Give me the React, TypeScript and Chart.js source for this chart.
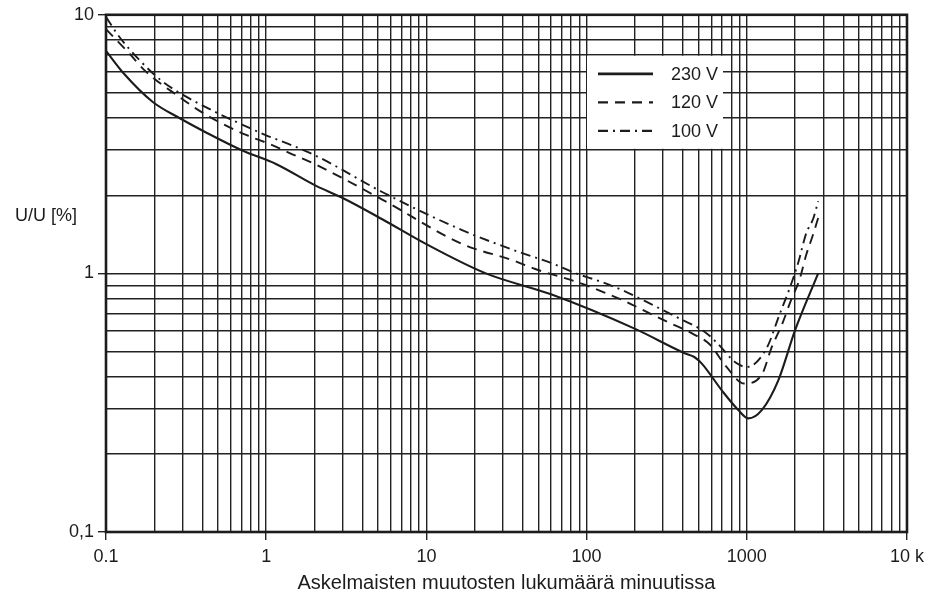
import { useEffect, useRef } from "react";
import { Chart, registerables } from "chart.js";

Chart.register(...registerables);

// Step-change rate (changes per minute) and permitted voltage change U/U [%]
const seriesLabels = ["230 V", "120 V", "100 V"];

const rate230 = [0.1, 0.13, 0.196, 0.289, 0.424, 0.716, 1.15, 2.05, 2.94, 5.3, 9.93, 23.5, 60, 201, 413, 470, 524, 698, 886, 1023, 1240, 1573, 2000, 2790];
const dev230 = [7.25, 5.9, 4.6, 3.98, 3.5, 2.98, 2.65, 2.18, 1.97, 1.62, 1.3, 1.0, 0.83, 0.61, 0.49, 0.475, 0.448, 0.353, 0.296, 0.275, 0.296, 0.386, 0.602, 1.0];

const rate120 = [0.1, 0.138, 0.179, 0.289, 0.384, 0.55, 0.75, 1.07, 1.4, 2.0, 5.3, 16.7, 35.2, 47.8, 89.8, 125, 174, 237, 327, 458, 590, 736, 966, 1250, 1422, 1667, 1897, 2126, 2350, 2600, 2800];
const dev120 = [8.8, 7.15, 6.0, 4.8, 4.25, 3.75, 3.43, 3.15, 2.92, 2.65, 1.93, 1.3, 1.12, 1.04, 0.92, 0.85, 0.78, 0.71, 0.645, 0.585, 0.53, 0.44, 0.375, 0.41, 0.513, 0.64, 0.794, 0.94, 1.18, 1.42, 1.65];

const rate100 = [0.1, 0.122, 0.163, 0.222, 0.31, 0.466, 0.683, 1.0, 1.46, 2.09, 5.33, 16.7, 37.8, 58.2, 86, 122, 175, 253, 378, 555, 649, 861, 1000, 1083, 1343, 1596, 1842, 2094, 2350, 2600, 2790];
const dev100 = [9.8, 8.17, 6.65, 5.56, 4.86, 4.25, 3.8, 3.42, 3.12, 2.83, 2.06, 1.47, 1.21, 1.105, 1.0, 0.93, 0.85, 0.76, 0.67, 0.59, 0.54, 0.45, 0.435, 0.44, 0.52, 0.69, 0.868, 1.1, 1.43, 1.63, 1.9];

// Axis ranges and decade labels
const xDecades = [0.1, 1, 10, 100, 1000, 10000];
const xDecadeLabels = ["0.1", "1", "10", "100", "1000", "10 k"];
const yDecades = [0.1, 1, 10];
const yDecadeLabels = ["0,1", "1", "10"];

const xTitle = "Askelmaisten muutosten lukumäärä minuutissa";
const yTitle = "U/U [%]";

const FONT = "'Liberation Sans', Arial, sans-serif";
const INK = "#1c1c1c";

function logGridValues(decades: number[]): number[] {
  const out: number[] = [];
  for (let i = 0; i < decades.length - 1; i++) {
    for (let m = 1; m <= 9; m++) out.push(+(decades[i] * m).toPrecision(6));
  }
  out.push(decades[decades.length - 1]);
  return out;
}

function decadeIndex(decades: number[], v: number): number {
  return decades.findIndex((d) => Math.abs(Math.log10(d) - Math.log10(v)) < 1e-6);
}

const toPoints = (xs: number[], ys: number[]) => xs.map((x, i) => ({ x, y: ys[i] }));

const framePlugin = {
  id: "frameAndTexts",
  afterDatasetsDraw(chart: any) {
    const { ctx, chartArea } = chart;
    const { left, right, top, bottom } = chartArea;
    ctx.save();

    // legend box inside the plot
    const bx = left + 481;
    const by = top + 41;
    const bw = 136;
    const bh = 93;
    ctx.fillStyle = "#ffffff";
    ctx.fillRect(bx, by, bw, bh);
    chart.data.datasets.forEach((ds: any, i: number) => {
      const ly = by + 18 + i * 28.5;
      ctx.strokeStyle = ds.borderColor;
      ctx.lineWidth = i === 0 ? 2.8 : 2.2;
      ctx.setLineDash(ds.borderDash || []);
      ctx.beginPath();
      ctx.moveTo(bx + 11, ly);
      ctx.lineTo(bx + 66, ly);
      ctx.stroke();
      ctx.setLineDash([]);
      ctx.fillStyle = INK;
      ctx.font = `18px ${FONT}`;
      ctx.textAlign = "right";
      ctx.textBaseline = "middle";
      ctx.fillText(ds.label, bx + 131, ly + 1);
    });

    // outer frame
    ctx.strokeStyle = INK;
    ctx.lineWidth = 2.6;
    ctx.strokeRect(left, top, right - left, bottom - top);

    // horizontal y-axis title
    ctx.fillStyle = INK;
    ctx.font = `18px ${FONT}`;
    ctx.textAlign = "left";
    ctx.textBaseline = "middle";
    ctx.fillText(yTitle, 15, top + 201);

    // x-axis title
    ctx.textAlign = "center";
    ctx.font = `20px ${FONT}`;
    ctx.fillText(xTitle, (left + right) / 2, 583, 470);
    ctx.restore();
  },
};

export default function App() {
  const ref = useRef<HTMLCanvasElement | null>(null);

  useEffect(() => {
    if (!ref.current) return;
    const mk = (label: string, xs: number[], ys: number[], dash: number[], width: number) => ({
      label,
      data: toPoints(xs, ys),
      borderColor: INK,
      borderWidth: width,
      borderDash: dash,
      pointRadius: 0,
      showLine: true,
      fill: false,
      cubicInterpolationMode: "monotone" as const,
    });

    const gridOpts = (decades: number[]) => ({
      color: "#222222",
      lineWidth: 1.4,
      drawTicks: true,
      tickLength: 8,
      tickWidth: 1.4,
      tickColor: (c: any) =>
        c.tick && decadeIndex(decades, c.tick.value) >= 0 ? "#222222" : "rgba(0,0,0,0)",
    });

    const chart = new Chart(ref.current, {
      type: "scatter",
      data: {
        datasets: [
          mk(seriesLabels[0], rate230, dev230, [], 2.1),
          mk(seriesLabels[1], rate120, dev120, [10, 7], 1.9),
          mk(seriesLabels[2], rate100, dev100, [10, 5, 2, 5], 1.9),
        ],
      },
      options: {
        animation: false,
        responsive: false,
        maintainAspectRatio: false,
        layout: { padding: { top: 14, right: 21, left: 0, bottom: 0 } },
        plugins: { legend: { display: false }, tooltip: { enabled: false } },
        scales: {
          x: {
            type: "logarithmic",
            min: 0.1,
            max: 10000,
            afterBuildTicks: (s: any) => {
              s.ticks = logGridValues(xDecades).map((value) => ({ value }));
            },
            afterFit: (s: any) => {
              s.height = 67;
            },
            ticks: {
              autoSkip: false,
              maxRotation: 0,
              padding: 6,
              color: INK,
              font: { family: FONT, size: 18 },
              callback: (v: any) => {
                const i = decadeIndex(xDecades, Number(v));
                return i >= 0 ? xDecadeLabels[i] : "";
              },
            },
            grid: gridOpts(xDecades),
            border: { display: false },
          },
          y: {
            type: "logarithmic",
            min: 0.1,
            max: 10,
            afterBuildTicks: (s: any) => {
              s.ticks = logGridValues(yDecades).map((value) => ({ value }));
            },
            afterFit: (s: any) => {
              s.width = 106;
            },
            ticks: {
              autoSkip: false,
              padding: 4,
              color: INK,
              font: { family: FONT, size: 18 },
              callback: (v: any) => {
                const i = decadeIndex(yDecades, Number(v));
                return i >= 0 ? yDecadeLabels[i] : "";
              },
            },
            grid: gridOpts(yDecades),
            border: { display: false },
          },
        },
      },
      plugins: [framePlugin],
    } as any);

    return () => chart.destroy();
  }, []);

  return (
    <div style={{ position: "fixed", left: 0, top: 0, width: 930, height: 599, background: "#ffffff" }}>
      <canvas ref={ref} width={930} height={599} style={{ width: 930, height: 599, display: "block" }} />
    </div>
  );
}
